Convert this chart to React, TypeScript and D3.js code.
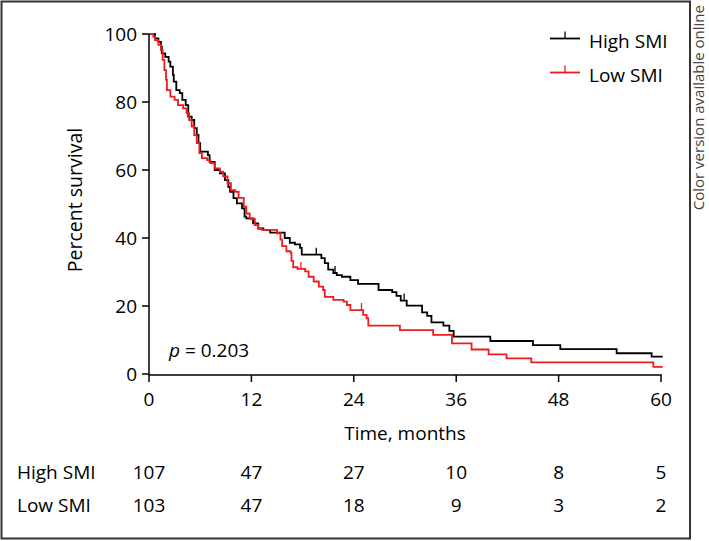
import React from "react";
import * as d3 from "d3";

// Kaplan-Meier steps: [month, percent after step]
const highTimes = [0, 0.7, 1.1, 1.4, 1.5, 1.9, 2.3, 2.5, 2.8, 2.9, 3.2, 3.6, 3.9, 4.3, 4.6, 5.0, 5.3, 5.6, 5.8, 6.0, 6.9, 7.1, 7.7, 8.3, 8.9, 9.3, 9.5, 9.9, 10.3, 10.9, 11.2, 11.4, 12.2, 12.8, 13.4, 14.2, 15.9, 16.5, 17.1, 17.7, 17.9, 20.2, 20.6, 21.0, 21.6, 22.0, 22.6, 23.6, 24.5, 26.9, 28.5, 29.0, 29.5, 30.2, 32.0, 32.6, 33.1, 34.5, 35.2, 35.7, 40.0, 45.0, 48.2, 54.8, 58.9, 60.2];
const highSurv = [100, 98.7, 97.7, 96.3, 94.3, 93.3, 91.9, 90.4, 88.0, 86.0, 83.5, 82.6, 80.6, 79.1, 75.7, 74.7, 72.3, 70.3, 67.9, 65.4, 64.4, 62.4, 60.0, 59.0, 57.0, 55.0, 53.6, 51.7, 50.2, 48.7, 46.3, 45.8, 44.3, 42.8, 42.4, 41.6, 40.0, 38.6, 38.1, 37.1, 35.1, 34.1, 32.6, 30.7, 29.7, 29.1, 28.6, 27.6, 26.5, 24.7, 24.1, 23.0, 21.6, 20.1, 18.1, 17.1, 15.2, 14.2, 12.7, 11.0, 9.7, 8.5, 7.3, 6.1, 5.1, 5.1];
const highCensor = [19.6, 21.8, 29.9];

const lowTimes = [0, 0.5, 0.7, 1.1, 1.4, 1.6, 1.8, 2.0, 2.1, 2.5, 3.0, 3.4, 4.0, 4.4, 4.7, 5.0, 5.3, 5.6, 5.9, 6.2, 6.8, 7.2, 7.7, 8.3, 8.7, 9.2, 9.6, 10.1, 10.5, 11.1, 11.4, 11.8, 12.4, 12.8, 13.2, 15.0, 15.4, 15.6, 16.1, 16.6, 16.7, 16.9, 17.4, 18.3, 18.7, 19.3, 19.9, 20.4, 20.6, 21.6, 22.8, 23.2, 23.6, 25.1, 25.5, 25.7, 29.4, 33.3, 35.5, 37.8, 39.8, 41.9, 44.8, 59.1, 60.2];
const lowSurv = [100, 99.2, 98.2, 96.8, 95.3, 92.4, 89.4, 86.5, 83.5, 81.6, 80.6, 79.1, 78.1, 76.7, 74.7, 72.8, 70.3, 67.9, 65.0, 63.5, 62.9, 62.0, 60.5, 59.5, 58.1, 56.1, 54.1, 53.6, 51.8, 49.2, 47.2, 45.6, 43.8, 42.8, 42.4, 41.4, 39.5, 37.6, 36.1, 35.6, 33.3, 31.4, 30.9, 30.2, 28.6, 27.2, 25.7, 24.7, 22.7, 21.8, 21.3, 20.3, 18.8, 17.4, 16.4, 14.2, 12.9, 11.5, 9.0, 7.2, 5.8, 4.6, 3.4, 2.1, 2.1];
const lowCensor = [17.8, 24.9];

const xTicks = [0, 12, 24, 36, 48, 60];
const yTicks = [0, 20, 40, 60, 80, 100];
const groups = ["High SMI", "Low SMI"];
const riskHigh = [107, 47, 27, 10, 8, 5];
const riskLow = [103, 47, 18, 9, 3, 2];

const FONT = "'Open Sans', 'Noto Sans', sans-serif";
const RED = "#ee1c1c";
const FS = 19;

const App = () => {
  const x = d3.scaleLinear().domain([0, 60]).range([149, 661]);
  const y = d3.scaleLinear().domain([0, 100]).range([374, 34]);

  const line = d3
    .line<[number, number]>()
    .x(d => x(d[0]))
    .y(d => y(d[1]))
    .curve(d3.curveStepAfter);

  const series = [
    { times: highTimes, surv: highSurv, censor: highCensor, color: "#000" },
    { times: lowTimes, surv: lowSurv, censor: lowCensor, color: RED },
  ];

  // survival level at time t
  const levelAt = (times, surv, t) => {
    const i = d3.bisectRight(times, t) - 1;
    return surv[Math.max(0, i)];
  };

  return (
    <svg width={709} height={541} style={{ position: "absolute", left: 0, top: 0, background: "#fff" }} fontFamily={FONT}>
      <rect x={1.5} y={1.5} width={688.5} height={537} fill="#fff" stroke="#333" strokeWidth={2} />

      {/* curves */}
      {series.map((s, k) => (
        <g key={k}>
          <path
            d={line(s.times.map((t, i) => [t, s.surv[i]]))}
            fill="none"
            stroke={s.color}
            strokeWidth={1.8}
          />
          {s.censor.map((c, j) => {
            const yy = y(levelAt(s.times, s.surv, c));
            return <line key={j} x1={x(c)} x2={x(c)} y1={yy} y2={yy - 7} stroke={s.color} strokeWidth={1.3} />;
          })}
        </g>
      ))}

      {/* axes */}
      <line x1={149} x2={149} y1={y(100)} y2={375} stroke="#000" strokeWidth={1.5} />
      <line x1={149} x2={x(60) + 0.75} y1={375} y2={375} stroke="#000" strokeWidth={1.5} />
      {yTicks.map(t => (
        <g key={t}>
          <line x1={142} x2={149} y1={y(t)} y2={y(t)} stroke="#000" strokeWidth={1.5} />
          <text x={137} y={y(t)} dy="0.35em" textAnchor="end" fontSize={FS} fill="#000">{t}</text>
        </g>
      ))}
      {xTicks.map(t => (
        <g key={t}>
          <line x1={x(t)} x2={x(t)} y1={375} y2={382} stroke="#000" strokeWidth={1.5} />
          <text x={x(t)} y={406} textAnchor="middle" fontSize={FS} fill="#000">{t}</text>
        </g>
      ))}
      <text x={405} y={440} textAnchor="middle" fontSize={FS}>Time, months</text>
      <text transform="translate(82,200) rotate(-90)" textAnchor="middle" fontSize={FS + 0.5}>Percent survival</text>

      <text x={169} y={357} fontSize={FS}>
        <tspan fontStyle="italic">p</tspan> = 0.203
      </text>

      {/* legend */}
      {series.map((s, k) => {
        const ly = 38.5 + k * 34;
        return (
          <g key={k}>
            <line x1={550} x2={580} y1={ly} y2={ly} stroke={s.color} strokeWidth={1.8} />
            <line x1={565} x2={565} y1={ly} y2={ly - 7} stroke={s.color} strokeWidth={1.3} />
            <text x={589} y={ly + 3} dy="0.35em" fontSize={FS}>{groups[k]}</text>
          </g>
        );
      })}

      {/* number at risk */}
      {[riskHigh, riskLow].map((row, k) => (
        <g key={k}>
          <text x={17} y={479 + k * 33} fontSize={FS}>{groups[k]}</text>
          {row.map((v, i) => (
            <text key={i} x={x(xTicks[i])} y={479 + k * 33} textAnchor="middle" fontSize={FS}>{v}</text>
          ))}
        </g>
      ))}

      <text transform="translate(704,5) rotate(-90)" textAnchor="end" fontSize={15} fill="#444">
        Color version available online
      </text>
    </svg>
  );
};

export default App;
